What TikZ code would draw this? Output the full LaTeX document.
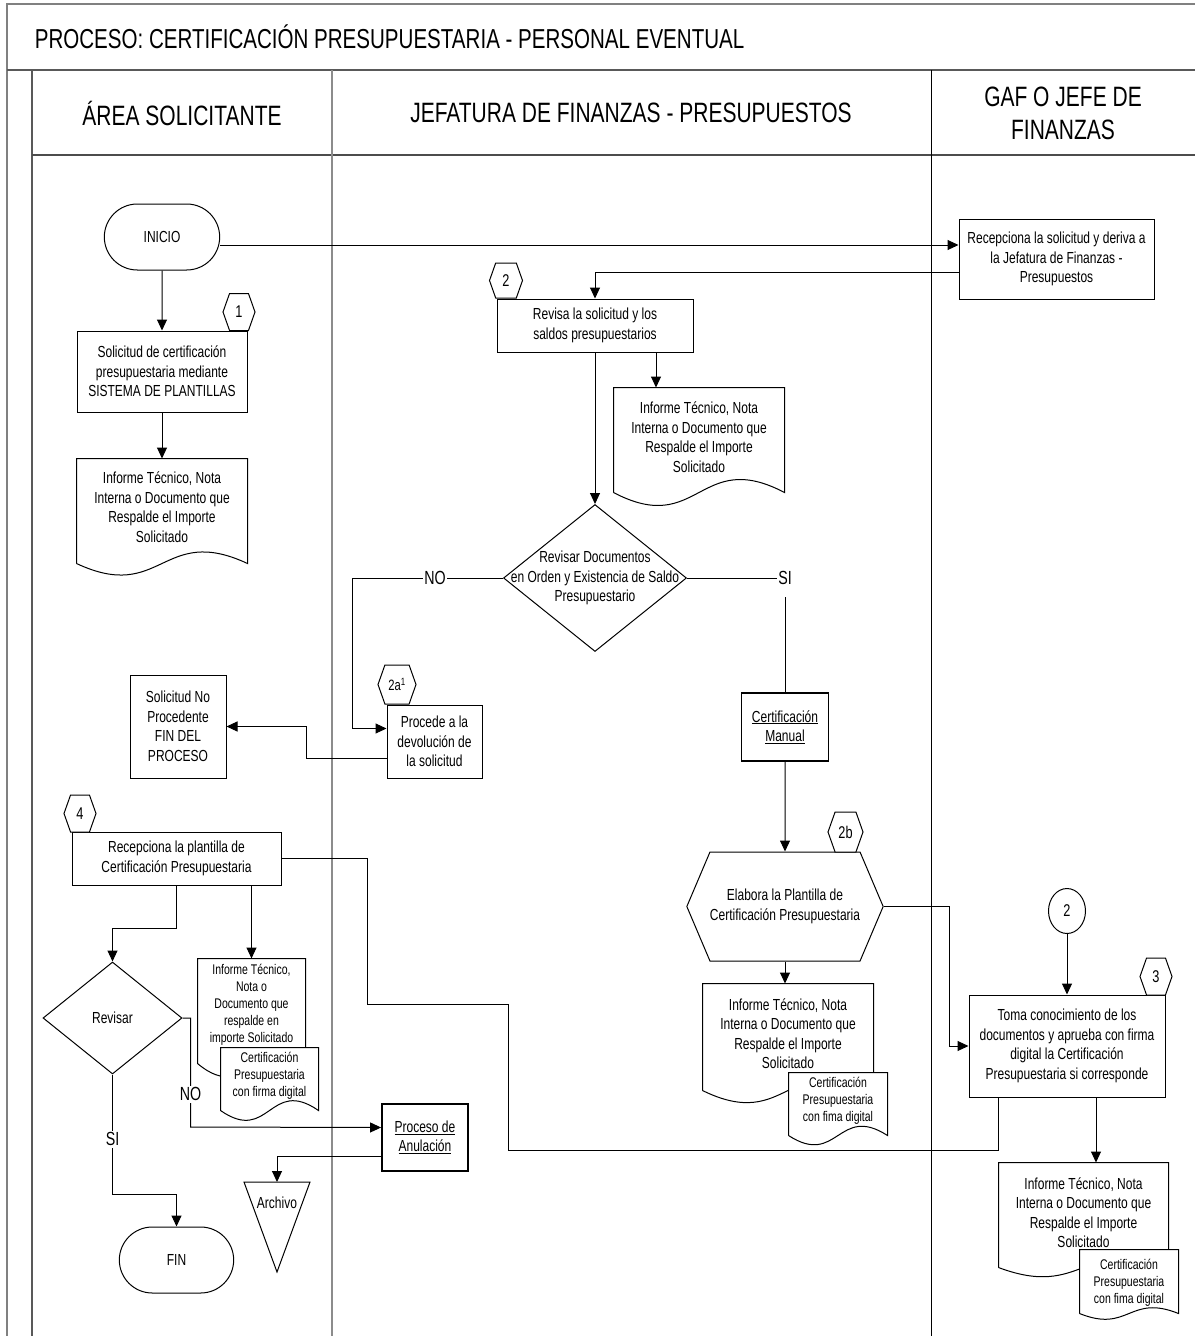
\documentclass[tikz,border=0pt]{standalone}
\usepackage{fontspec}
\setmainfont{Liberation Sans}[FakeStretch=0.75]
\usetikzlibrary{arrows.meta,shapes.geometric,shapes.misc,shapes.symbols,calc}

\tikzset{
  proc/.style={draw,rectangle,fill=white,align=center,inner sep=2pt,
    font=\fontsize{16}{19.5}\selectfont},
  thickproc/.style={proc,line width=1.8pt},
  term/.style={draw,rounded rectangle,minimum width=122,minimum height=66,
    font=\fontsize{16}{19.5}\selectfont},
  decision/.style={draw,diamond,inner sep=0pt,font=\fontsize{16}{19.5}\selectfont},
  stepnum/.style={draw,signal,signal to=east and west,signal pointer angle=141,
    minimum width=32,minimum height=37,inner sep=0pt,fill=white,
    font=\fontsize{17}{20}\selectfont},
  prepbox/.style={draw,signal,signal to=east and west,signal pointer angle=134,
    align=center,inner sep=0pt,fill=white,font=\fontsize{16}{19.5}\selectfont},
  doc/.style={fill=white,align=center,inner sep=0pt,
    font=\fontsize{16}{19.5}\selectfont},
  smalldoc/.style={doc,font=\fontsize{14}{17}\selectfont},
  conn/.style={draw,ellipse,minimum width=37,minimum height=45,inner sep=0pt,
    font=\fontsize{17}{20}\selectfont},
  lbl/.style={fill=white,inner sep=1.5pt,font=\fontsize{19}{22}\selectfont},
  arr/.style={-{Triangle[length=11pt,width=10pt]}},
  lanetitle/.style={align=center,font=\fontsize{28}{33}\selectfont},
  frame/.style={draw=black!65,line width=2pt},
}

\newcommand{\docline}[3][0pt]{%
  \draw ([yshift={-(#1)}]#2.south west) -- (#2.north west) -- (#2.north east)
    -- ([yshift={-(#1)}]#2.south east)
    .. controls ([yshift={#3-(#1)}]#2.south) and ([yshift={-#3-(#1)}]#2.south)
    .. ([yshift={-(#1)}]#2.south west);}

\begin{document}
\begin{tikzpicture}[x=1pt,y=-1pt,line width=1pt]
\useasboundingbox (0,0) rectangle (1195,1336);

\draw[frame,draw=black!50] (7,1336) -- (7,4) -- (1195,4);
\draw[frame,line width=2.6pt] (7,70) -- (1195,70);
\draw[frame] (32,70) -- (32,1336);
\draw[draw=black!70,line width=1.5pt] (32,155) -- (1195,155);
\draw[draw=black!45,line width=1.5pt] (332,70) -- (332,1336);
\draw (931,70) -- (931,1336);

\node[anchor=west,font=\fontsize{27.4}{33}\selectfont] (title) at (31,37)
    {PROCESO: CERTIFICACIÓN PRESUPUESTARIA - PERSONAL EVENTUAL};
\node[lanetitle] (areasol) at (182,113) {ÁREA SOLICITANTE};
\node[lanetitle] (jefatura) at (631,113) {JEFATURA DE FINANZAS - PRESUPUESTOS};
\node[lanetitle] (gaf) at (1063,113) {GAF O JEFE DE\\FINANZAS};

\node[term] (inicio) at (162,237) {INICIO};

\node[proc,minimum width=170,minimum height=81] (sol) at (162,371.5)
    {Solicitud de certificación\\presupuestaria mediante\\SISTEMA DE PLANTILLAS};
\node[stepnum] (num1) at (239,312) {1};

\node[doc,minimum width=170,minimum height=96] (doc1) at (162,507)
    {Informe Técnico, Nota\\Interna o Documento que\\Respalde el Importe\\Solicitado};
\docline[8pt]{doc1}{40pt}

\node[proc,minimum width=195,minimum height=80] (recep) at (1056.5,259)
    {Recepciona la solicitud y deriva a\\la Jefatura de Finanzas -\\Presupuestos};

\node[proc,minimum width=196,minimum height=53] (revisa) at (595,325.5)
    {Revisa la solicitud y los\\saldos presupuestarios};
\node[stepnum,minimum width=33,minimum height=35] (num2) at (506,280.5) {2};

\node[doc,minimum width=170,minimum height=98] (doc2) at (699,437)
    {Informe Técnico, Nota\\Interna o Documento que\\Respalde el Importe\\Solicitado};
\docline[6pt]{doc2}{45pt}

\node[decision,minimum width=183,minimum height=147,
    label={[align=center,font=\fontsize{16}{19.5}\selectfont]center:Revisar Documentos\\en Orden y Existencia de Saldo\\Presupuestario}]
    (check) at (595,578) {};

\node[proc,minimum width=95,minimum height=73] (procede) at (434.5,741.5)
    {Procede a la\\devolución de\\la solicitud};
\node[stepnum,minimum width=38,minimum height=39,font=\fontsize{15}{18}\selectfont]
    (num2a) at (397,684.5) {2a\textsuperscript{1}};

\node[proc,minimum width=96,minimum height=103] (noproc) at (178,726.5)
    {Solicitud No\\Procedente\\FIN DEL\\PROCESO};

\node[thickproc,minimum width=87,minimum height=68] (certman) at (785,727)
    {\underline{Certificación}\\\underline{Manual}};

\node[prepbox,minimum width=187,minimum height=109] (prep) at (785,906.5)
    {Elabora la Plantilla de\\Certificación Presupuestaria};
\node[stepnum,minimum width=35,minimum height=40] (num2b) at (845.5,832) {2b};

\node[doc,minimum width=170,minimum height=99] (doc3) at (788,1033.5)
    {Informe Técnico, Nota\\Interna o Documento que\\Respalde el Importe\\Solicitado};
\docline[7pt]{doc3}{42pt}
\node[smalldoc,minimum width=98,minimum height=56] (cert3) at (838,1101)
    {Certificación\\Presupuestaria\\con fima digital};
\docline[6pt]{cert3}{32pt}

\node[conn] (circ2) at (1067,911) {2};

\node[proc,minimum width=196,minimum height=102] (toma) at (1067,1046)
    {Toma conocimiento de los\\documentos y aprueba con firma\\digital la Certificación\\Presupuestaria si corresponde};
\node[stepnum] (num3) at (1156,976.5) {3};

\node[doc,minimum width=169,minimum height=99] (doc4) at (1083.5,1212.5)
    {Informe Técnico, Nota\\Interna o Documento que\\Respalde el Importe\\Solicitado};
\docline[5pt]{doc4}{32pt}
\node[smalldoc,minimum width=98,minimum height=66] (cert4) at (1129,1283)
    {Certificación\\Presupuestaria\\con fima digital};
\docline[-3pt]{cert4}{20pt}

\node[proc,minimum width=209,minimum height=53] (plantilla) at (176.5,858.5)
    {Recepciona la plantilla de\\Certificación Presupuestaria};
\node[stepnum] (num4) at (80,813.5) {4};

\node[decision,minimum width=139,minimum height=112] (revisar) at (112.5,1018) {Revisar};

\node[smalldoc,minimum width=107,minimum height=92] (doc5) at (251.5,1005)
    {Informe Técnico,\\Nota o\\Documento que\\respalde en\\importe Solicitado};
\docline[12pt]{doc5}{45pt}
\node[smalldoc,minimum width=97,minimum height=56] (cert5) at (269.5,1076)
    {Certificación\\Presupuestaria\\con firma digital};
\docline[6pt]{cert5}{34pt}

\node[thickproc,minimum width=86,minimum height=67] (anul) at (425,1137.5)
    {\underline{Proceso de}\\\underline{Anulación}};

\coordinate (archtop) at (277,1182);
\draw ($(archtop)+(-33,0)$) -- ($(archtop)+(33,0)$) -- ($(archtop)+(0,90)$) -- cycle;
\node[font=\fontsize{16}{19.5}\selectfont] (archivo) at (277,1203) {Archivo};

\node[term,minimum width=121] (fin) at (176.5,1260) {FIN};

\path[arr]
  (inicio) edge (sol)
  (sol) edge (doc1)
  (revisa) edge (check)
  (certman) edge (prep)
  (prep) edge (prep.south |- doc3.north)
  (circ2) edge (toma)
  ;

\draw[arr] ([yshift=-8pt]inicio.east) -- ([yshift=-8pt]inicio.east -| recep.west);
\draw[arr] ([yshift=-13pt]recep.west) -| (revisa.north);
\draw[arr] ([xshift=61pt]revisa.south) -- ([xshift=61pt]revisa.south |- doc2.north);

\draw[arr] (check.west) -- node[lbl,pos=.45]{NO} ++(-151,0) |- ([yshift=13pt]procede.west);
\draw[arr] ([yshift=-17pt]procede.west) -- ++(-80,0) |- (noproc.east);
\draw (check.east) -- (check.east -| certman.north) node[lbl,minimum height=38pt]{SI}
  -- (certman.north);

\draw[arr] (prep.east) -- ++(66,0) |- (toma.west);
\draw[arr] ([xshift=29pt]toma.south) -- ([xshift=29pt]toma.south |- doc4.north);
\draw ([xshift=-69pt]toma.south) -- ++(0,53) -- ++(-490,0) -- ++(0,-146) -- ++(-141,0)
  |- (plantilla.east);

\draw[arr] (plantilla.south) -- ++(0,43) -| (revisar.north);
\draw[arr] (plantilla.south -| doc5.north) -- (doc5.north);
\draw[arr] (revisar.east) -- ++(8,0) -- node[lbl,pos=.7]{NO} ++(0,109)
  -- ([yshift=10pt]anul.west);
\draw[arr] (revisar.south) -- node[lbl,pos=.54]{SI} ++(0,120) -| (fin.north);
\draw[arr] ([yshift=-19pt]anul.west) -| (archtop);

\end{tikzpicture}
\end{document}
